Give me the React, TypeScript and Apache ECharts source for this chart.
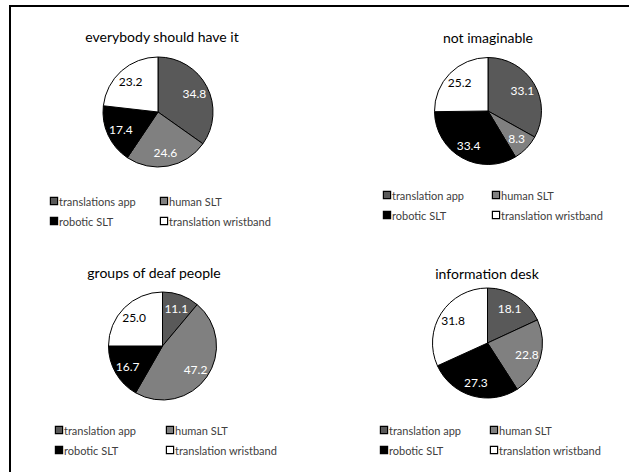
import React, { useEffect, useRef } from "react";
import * as echarts from "echarts";

const categoriesA = ["translations app", "human SLT", "robotic SLT", "translation wristband"];
const categoriesB = ["translation app", "human SLT", "robotic SLT", "translation wristband"];
const titles = ["everybody should have it", "not imaginable", "groups of deaf people", "information desk"];
const valuesEverybody = [34.8, 24.6, 17.4, 23.2];
const valuesNotImaginable = [33.1, 8.3, 33.4, 25.2];
const valuesGroups = [11.1, 47.2, 16.7, 25.0];
const valuesInfoDesk = [18.1, 22.8, 27.3, 31.8];
const sliceColors = ["#595959", "#808080", "#000000", "#ffffff"];
const labelColors = ["#ffffff", "#ffffff", "#ffffff", "#000000"];

const FONT = "Lato, 'Open Sans', sans-serif";

const panels = [
  { title: titles[0], cats: categoriesA, vals: valuesEverybody, cx: 158, cy: 112, r: 55, tx: 162, ty: 29, lx1: 51, lx2: 161, ly: 195 },
  { title: titles[1], cats: categoriesB, vals: valuesNotImaginable, cx: 488, cy: 111, r: 53.5, tx: 488, ty: 30, lx1: 384, lx2: 493, ly: 189 },
  { title: titles[2], cats: categoriesB, vals: valuesGroups, cx: 162.5, cy: 346, r: 54, tx: 154, ty: 265, lx1: 56, lx2: 167, ly: 424 },
  { title: titles[3], cats: categoriesB, vals: valuesInfoDesk, cx: 487.5, cy: 343, r: 55, tx: 487, ty: 266, lx1: 381, lx2: 491, ly: 424 },
];

export default function App() {
  const ref = useRef<HTMLDivElement>(null);
  useEffect(() => {
    if (!ref.current) return;
    const chart = echarts.init(ref.current, null, { renderer: "svg" });
    const series: any[] = [];
    const legends: any[] = [];
    const titleArr: any[] = [];
    const rich: any = {
      t: { fontFamily: FONT, fontSize: 11, color: "#404040", padding: [0, 0, 0, 2], lineHeight: 12 },
    };
    sliceColors.forEach((c, j) => {
      rich["b" + j] = { width: 6, height: 6, backgroundColor: c, borderColor: "#000", borderWidth: 1.2 };
    });
    panels.forEach((p, i) => {
      const data = p.vals.map((v, j) => ({
        name: p.cats[j],
        value: v,
        itemStyle: { color: sliceColors[j], borderColor: "#000", borderWidth: 1 },
      }));
      series.push({
        type: "pie",
        name: "pie" + i,
        center: [p.cx, p.cy],
        radius: [0, p.r],
        startAngle: 90,
        clockwise: true,
        silent: true,
        label: { show: false },
        labelLine: { show: false },
        data,
      });
      series.push({
        type: "pie",
        name: "lbl" + i,
        center: [p.cx, p.cy],
        radius: [p.r * 0.38, p.r],
        startAngle: 90,
        clockwise: true,
        silent: true,
        legendHoverLink: false,
        itemStyle: { color: "transparent", borderWidth: 0 },
        label: {
          show: true,
          position: "inside",
          fontFamily: FONT,
          fontSize: 12,
          textBorderWidth: 0,
          formatter: (d: any) => d.value.toFixed(1),
        },
        labelLine: { show: false },
        data: p.vals.map((v, j) => ({
          name: "_" + p.cats[j],
          value: v,
          label: { color: labelColors[j], textBorderWidth: 0 },
        })),
      });
      titleArr.push({
        text: p.title,
        left: p.tx,
        top: p.ty,
        textAlign: "center",
        padding: 0,
        textStyle: { fontFamily: FONT, fontSize: 14, fontWeight: "normal", color: "#000" },
      });
      const mkLegend = (idx: number[], x: number) => ({
        orient: "vertical",
        left: x - 5,
        top: p.ly,
        padding: 0,
        itemWidth: 0,
        itemHeight: 8,
        itemGap: 8,
        icon: "rect",
        itemStyle: { opacity: 0, borderWidth: 0 },
        selectedMode: false,
        formatter: (name: string) => {
          const j = p.cats.indexOf(name);
          return "{b" + j + "|}{t|" + name + "}";
        },
        textStyle: { fontFamily: FONT, fontSize: 11, color: "#404040", lineHeight: 12, rich },
        data: idx.map((j) => p.cats[j]),
      });
      legends.push(mkLegend([0, 2], p.lx1));
      legends.push(mkLegend([1, 3], p.lx2));
    });
    chart.setOption({
      animation: false,
      backgroundColor: "#fff",
      title: titleArr,
      legend: legends,
      series,
      graphic: [
        { type: "line", shape: { x1: 10, y1: 6, x2: 629, y2: 6 }, style: { stroke: "#000", lineWidth: 2 } },
        { type: "line", shape: { x1: 10, y1: 5, x2: 10, y2: 472 }, style: { stroke: "#000", lineWidth: 2 } },
      ],
    });
    return () => chart.dispose();
  }, []);
  return <div ref={ref} style={{ position: "absolute", left: 0, top: 0, width: 629, height: 472 }} />;
}
